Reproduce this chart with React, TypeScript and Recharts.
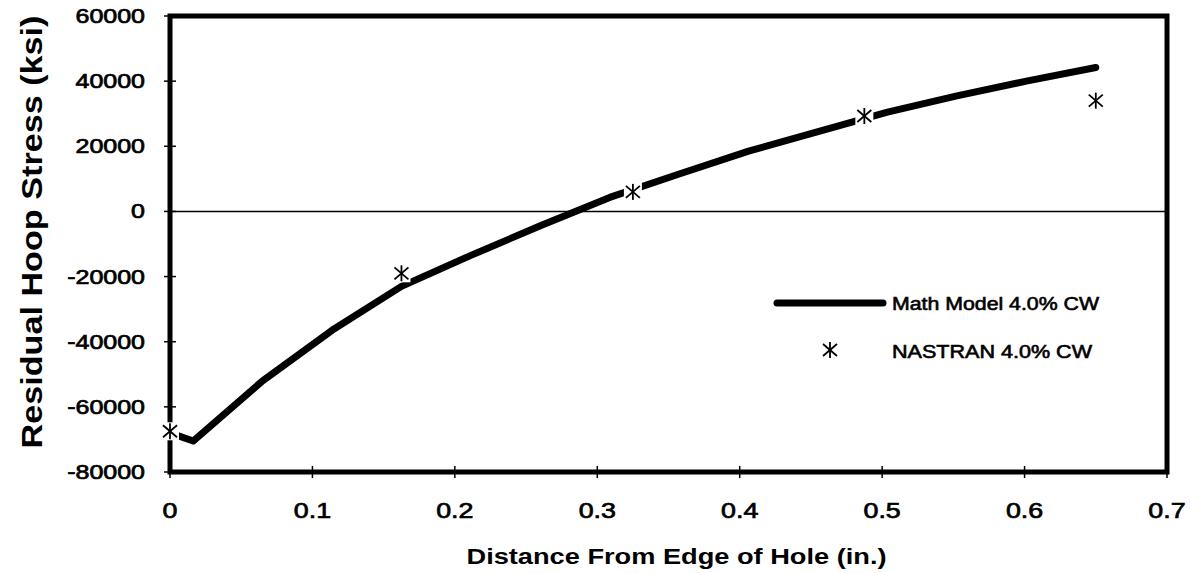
import React from 'react';
import {
  ComposedChart,
  Line,
  Scatter,
  XAxis,
  YAxis,
  ReferenceLine,
  ReferenceArea,
  Legend,
  Label,
} from 'recharts';

// Math model curve
const modelDistance = [0, 0.01625, 0.065, 0.11375, 0.1625, 0.21125, 0.26, 0.30875, 0.3575, 0.40625, 0.455, 0.50375, 0.5525, 0.60125, 0.65];
const modelStress = [-68000, -70500, -52000, -36500, -23000, -13500, -4400, 4300, 11500, 18500, 24500, 30500, 35500, 40000, 44200];

// NASTRAN results
const nastranDistance = [0, 0.1625, 0.325, 0.4875, 0.65];
const nastranStress = [-67500, -19000, 6000, 29300, 34000];

const xTicks = [0, 0.1, 0.2, 0.3, 0.4, 0.5, 0.6, 0.7];
const yTicks = [-80000, -60000, -40000, -20000, 0, 20000, 40000, 60000];

const modelData = modelDistance.map((x, i) => ({ x, y: modelStress[i] }));
const nastranData = nastranDistance.map((x, i) => ({ x, y: nastranStress[i] }));

const FONT = "'Liberation Sans', Arial, Helvetica, sans-serif";

const XTick = (props: any) => {
  const { x, y, payload } = props;
  return (
    <g>
      <line x1={x} x2={x} y1={y - 6} y2={y + 6} stroke="#000" strokeWidth={1.5} />
      <text
        transform={`translate(${x},${y + 46}) scale(1.22,1)`}
        textAnchor="middle"
        fontSize={22}
        fontFamily={FONT}
        fill="#000"
        stroke="#000"
        strokeWidth={0.7}
      >
        {payload.value}
      </text>
    </g>
  );
};

const YTick = (props: any) => {
  const { x, y, payload } = props;
  return (
    <g>
      <line x1={x - 6} x2={x + 6} y1={y} y2={y} stroke="#000" strokeWidth={1.5} />
      <text
        transform={`translate(${x - 25},${y + 7}) scale(1.25,1)`}
        textAnchor="end"
        fontSize={20}
        fontFamily={FONT}
        fill="#000"
        stroke="#000"
        strokeWidth={0.7}
      >
        {payload.value}
      </text>
    </g>
  );
};

const Asterisk = (props: any) => {
  const { cx, cy } = props;
  if (cx == null || cy == null) return null;
  return (
    <g>
      <rect x={cx - 9} y={cy - 9} width={18} height={18} fill="#fff" />
      <line x1={cx} x2={cx} y1={cy - 8} y2={cy + 8} stroke="#000" strokeWidth={1.8} />
      <line x1={cx - 7} x2={cx + 7} y1={cy - 6} y2={cy + 6} stroke="#000" strokeWidth={1.8} />
      <line x1={cx - 7} x2={cx + 7} y1={cy + 6} y2={cy - 6} stroke="#000" strokeWidth={1.8} />
    </g>
  );
};

const LegendBox = () => (
  <svg width={380} height={110} style={{ display: 'block' }}>
    <line x1={17} x2={123} y1={33} y2={33} stroke="#000" strokeWidth={7} strokeLinecap="round" />
    <text x={132} y={40} fontSize={18} fontFamily={FONT} textLength={207} lengthAdjust="spacingAndGlyphs" stroke="#000" strokeWidth={0.6}>
      Math Model 4.0% CW
    </text>
    <Asterisk cx={70} cy={80} />
    <text x={132} y={88} fontSize={18} fontFamily={FONT} textLength={200} lengthAdjust="spacingAndGlyphs" stroke="#000" strokeWidth={0.6}>
      NASTRAN 4.0% CW
    </text>
  </svg>
);

export default function App() {
  return (
    <div style={{ position: 'absolute', left: 0, top: 0, background: '#fff' }}>
      <ComposedChart
        width={1198}
        height={573}
        margin={{ top: 16, right: 31, bottom: 0, left: 0 }}
        style={{ fontFamily: FONT }}
      >
        <XAxis
          type="number"
          dataKey="x"
          domain={[0, 0.7]}
          ticks={xTicks}
          interval={0}
          tickSize={0}
          tickMargin={0}
          axisLine={false}
          tickLine={false}
          tick={<XTick />}
          height={101}
        >
          <Label
            content={(p: any) => {
              const vb = p.viewBox;
              return (
                <text
                  x={vb.x + vb.width / 2 + 8}
                  y={vb.y + 92}
                  textAnchor="middle"
                  fontSize={22}
                  fontWeight="bold"
                  fontFamily={FONT}
                  textLength={420}
                  lengthAdjust="spacingAndGlyphs"
                >
                  Distance From Edge of Hole (in.)
                </text>
              );
            }}
          />
        </XAxis>
        <YAxis
          type="number"
          dataKey="y"
          domain={[-80000, 60000]}
          ticks={yTicks}
          interval={0}
          tickSize={0}
          tickMargin={0}
          axisLine={false}
          tickLine={false}
          tick={<YTick />}
          width={170}
        >
          <Label
            content={(p: any) => {
              const vb = p.viewBox;
              const cx = 42;
              const cy = vb.y + vb.height / 2 - 12;
              return (
                <text
                  x={cx}
                  y={cy}
                  transform={`rotate(-90, ${cx}, ${cy})`}
                  textAnchor="middle"
                  fontSize={30}
                  fontWeight="bold"
                  fontFamily={FONT}
                  textLength={433}
                  lengthAdjust="spacingAndGlyphs"
                >
                  Residual Hoop Stress (ksi)
                </text>
              );
            }}
          />
        </YAxis>
        <ReferenceArea
          x1={0}
          x2={0.7}
          y1={-80000}
          y2={60000}
          fill="none"
          fillOpacity={0}
          stroke="#000"
          strokeWidth={5}
        />
        <ReferenceLine y={0} stroke="#000" strokeWidth={1.5} />
        <Line
          data={modelData}
          dataKey="y"
          type="linear"
          stroke="#000"
          strokeWidth={7}
          strokeLinecap="round"
          strokeLinejoin="round"
          dot={false}
          activeDot={false}
          isAnimationActive={false}
        />
        <Scatter
          data={nastranData}
          dataKey="y"
          shape={<Asterisk />}
          isAnimationActive={false}
        />
        <Legend
          layout="vertical"
          verticalAlign="middle"
          align="center"
          wrapperStyle={{ position: 'absolute', left: 760, top: 270, width: 380, height: 110 }}
          content={() => <LegendBox />}
        />
      </ComposedChart>
    </div>
  );
}
